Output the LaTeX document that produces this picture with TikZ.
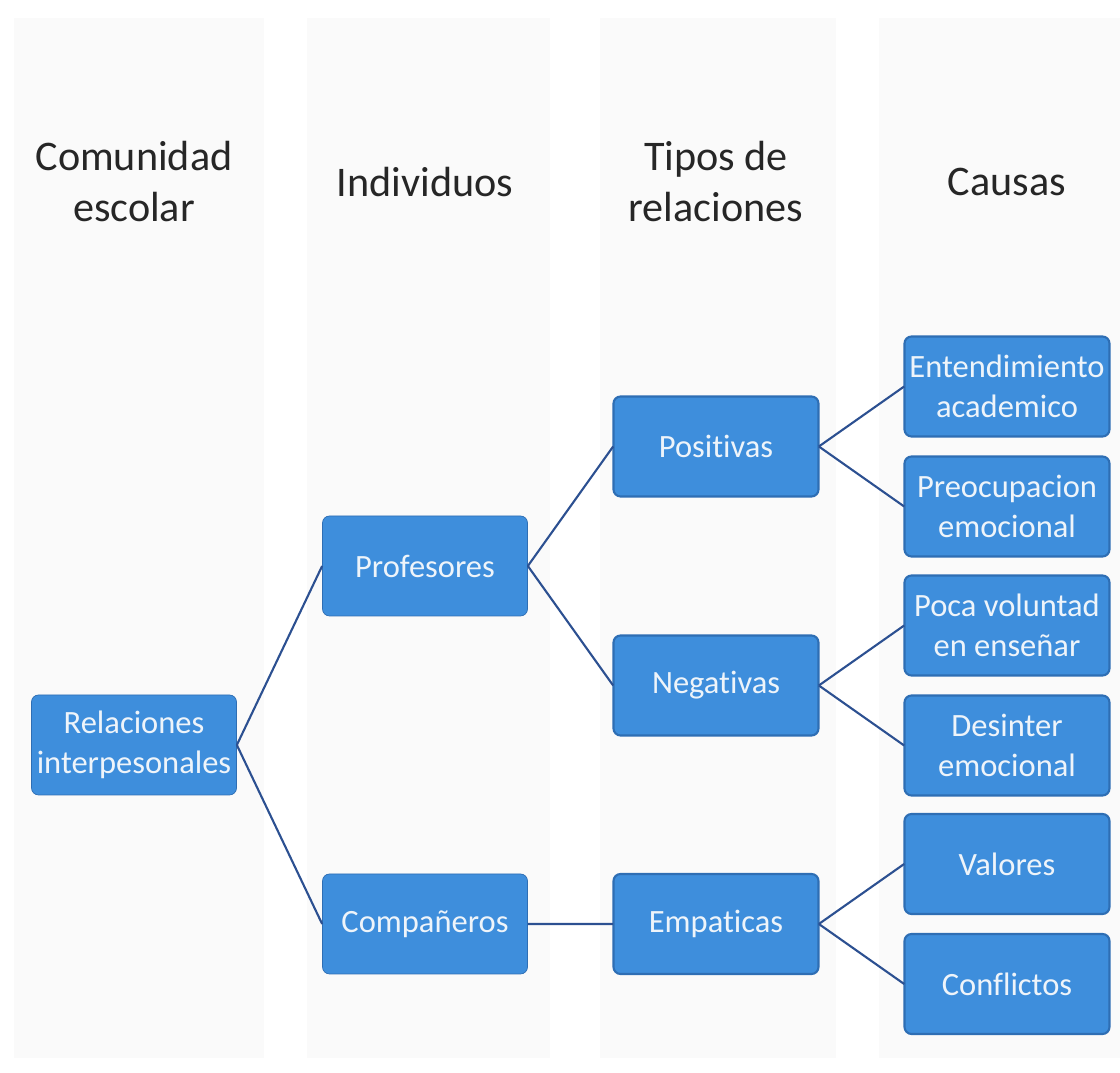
\documentclass[tikz,border=0pt]{standalone}
\usepackage{fontspec}
\setmainfont[Ligatures=NoCommon]{Carlito}
\usetikzlibrary{positioning, trees}
\definecolor{azulcaja}{RGB}{62,142,220}
\definecolor{bordecaja}{RGB}{46,110,180}
\definecolor{linea}{RGB}{44,80,145}
\definecolor{textocaja}{RGB}{238,244,250}
\definecolor{fondocol}{RGB}{250,250,250}

\tikzset{
  caja/.style={draw=bordecaja, fill=azulcaja, rounded corners=4pt, text=textocaja,
    minimum width=4.1cm, minimum height=2cm, inner sep=1pt, align=center,
    font=\fontsize{18.5}{22.5}\selectfont},
  titulo/.style={align=center, text=black!85, font=\fontsize{24}{29}\selectfont},
  banda/.style={fill=fondocol, draw=none}
}

\begin{document}
\begin{tikzpicture}[grow'=right, level distance=5.82cm,
  level 1/.style={sibling distance=7.16cm},
  level 2/.style={sibling distance=4.78cm},
  level 3/.style={sibling distance=2.4cm},
  edge from parent/.style={draw=linea, line width=1.2pt},
  edge from parent path={(\tikzparentnode.east) -- (\tikzchildnode.west)}]
\useasboundingbox (0,0) rectangle (22.4,21.46);

% columnas de fondo
\fill[banda] (0.28,0.3) rectangle (5.28,21.1);
\fill[banda] (6.14,0.3) rectangle (11.0,21.1);
\fill[banda] (12.0,0.3) rectangle (16.72,21.1);
\fill[banda] (17.58,0.3) rectangle (22.4,21.1);

% encabezados
\node[titulo] (tcom) at (2.68,17.82) {Comunidad\\escolar};
\node[titulo] (tind) at (8.5,17.82) {Individuos};
\node[titulo] (ttip) at (14.32,17.82) {Tipos de\\relaciones};
\node[titulo] (tcau) at (20.14,17.82) {Causas};

% arbol
\node[caja] (rel) at (2.68,6.56) {Relaciones\\interpesonales}
  child {node[caja] (prof) {Profesores}
    child {node[caja] (pos) {Positivas}
      child {node[caja] (ent) {Entendimiento\\academico}}
      child {node[caja] (preo) {Preocupacion\\emocional}}}
    child {node[caja] (neg) {Negativas}
      child {node[caja] (poca) {Poca voluntad\\en enseñar}}
      child {node[caja] (desi) {Desinter\\emocional}}}}
  child {node[caja] (comp) {Compañeros}
    child {node[caja] (emp) {Empaticas}
      child {node[caja] (val) {Valores}}
      child {node[caja] (conf) {Conflictos}}}};
\end{tikzpicture}
\end{document}
